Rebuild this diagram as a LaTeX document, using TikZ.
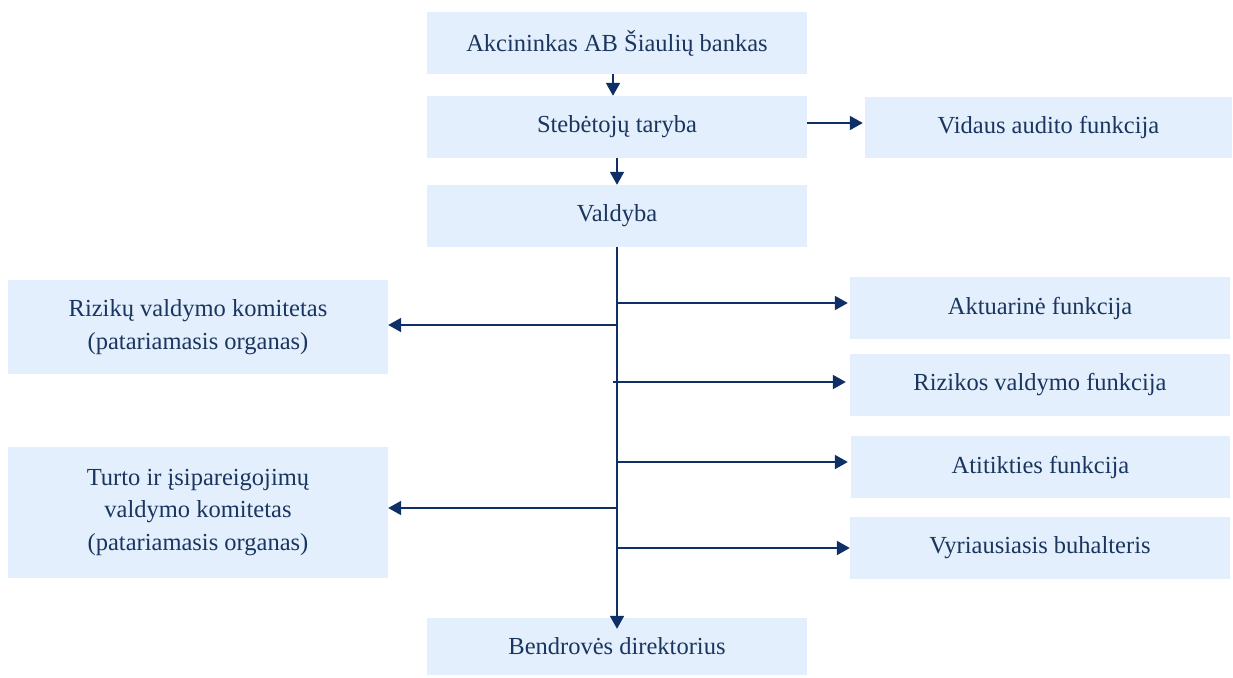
\documentclass[tikz,border=0pt]{standalone}
\usepackage{fontspec}
\setmainfont{Liberation Serif}
\usetikzlibrary{arrows.meta}
\definecolor{boxfill}{HTML}{E3EFFC}
\definecolor{txtc}{HTML}{1A355F}
\definecolor{linec}{HTML}{0E3066}
\tikzset{
  orgbox/.style={rectangle, fill=boxfill, draw=none, minimum width=380pt, minimum height=62pt,
    inner sep=0pt, align=center, text=txtc, font=\fontsize{24.5}{32.5}\selectfont},
  arr/.style={draw=linec, line width=2pt, -{Triangle[length=13pt,width=14pt]}},
}
\begin{document}
\begin{tikzpicture}[x=1pt,y=-1pt]
\useasboundingbox (0,0) rectangle (1233,677);
\node[orgbox] (akc) at (617,43) {Akcininkas AB Šiaulių bankas};
\node[orgbox] (steb) at (617,127) {Stebėtojų taryba};
\node[orgbox, minimum width=367pt, minimum height=61pt] (vid) at (1048.5,127.5) {Vidaus audito funkcija};
\node[orgbox] (vald) at (617,216) {Valdyba};
\node[orgbox, minimum height=94pt] (riz) at (198,327) {Rizikų valdymo komitetas\\(patariamasis organas)};
\node[orgbox] (akt) at (1040,308) {Aktuarinė funkcija};
\node[orgbox] (rizf) at (1040,385) {Rizikos valdymo funkcija};
\node[orgbox, minimum height=131pt] (turto) at (198,512.5) {Turto ir įsipareigojimų\\valdymo komitetas\\(patariamasis organas)};
\node[orgbox, minimum width=379pt] (atit) at (1040.5,467) {Atitikties funkcija};
\node[orgbox] (vyr) at (1040,548) {Vyriausiasis buhalteris};
\node[orgbox, minimum height=57pt] (dir) at (617,646.5) {Bendrovės direktorius};

\draw[arr] ([xshift=-4pt]akc.south) -- ([xshift=-4pt]steb.north);
\draw[arr] (steb.south) -- (vald.north);
\draw[arr] ([yshift=4pt]steb.east) -- ([yshift=4pt,xshift=-2pt]steb.east -| vid.west);
\draw[arr] (vald.south) -- ([yshift=-11pt]dir.north);

\coordinate (bl1) at (617,325);
\coordinate (bl2) at (617,508);
\coordinate (br1) at (617,303);
\coordinate (br2) at (613,382);
\coordinate (br3) at (617,462);
\coordinate (br4) at (617,548);

\draw[arr] (bl1) -- (bl1 -| riz.east);
\draw[arr] (bl2) -- (bl2 -| turto.east);
\draw[arr, shorten >=2pt] (br1) -- (br1 -| akt.west);
\draw[arr, shorten >=4pt] (br2) -- (br2 -| rizf.west);
\draw[arr, shorten >=3pt] (br3) -- (br3 -| atit.west);
\draw[arr] (br4) -- (br4 -| vyr.west);
\end{tikzpicture}
\end{document}
